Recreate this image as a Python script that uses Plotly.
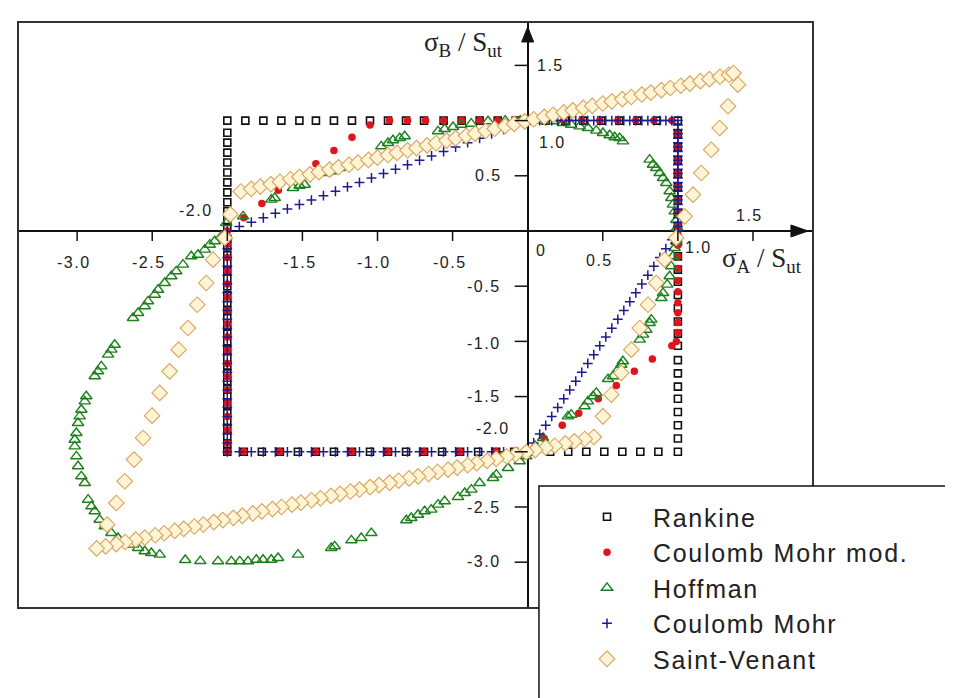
import plotly.graph_objects as go

# ---------------- data ----------------
SERIES_NAMES = ["Rankine", "Coulomb Mohr mod.", "Hoffman", "Coulomb Mohr", "Saint-Venant"]

RANKINE_PTS = [
    # top edge
    (-2.0, 1.0), (-1.88, 1.0), (-1.76, 1.0), (-1.64, 1.0), (-1.52, 1.0), (-1.41, 1.0), (-1.29, 1.0),
    (-1.17, 1.0), (-1.05, 1.0), (-0.93, 1.0), (-0.81, 1.0), (-0.69, 1.0), (-0.56, 1.0), (-0.44, 1.0),
    (-0.32, 1.0), (-0.20, 1.0), (-0.08, 1.0), (0.02, 1.0), (0.12, 1.0), (0.25, 1.0), (0.37, 1.0),
    (0.49, 1.0), (0.61, 1.0), (0.73, 1.0), (0.86, 1.0), (1.0, 1.0),
    # right edge
    (1.0, 0.88), (1.0, 0.76), (1.0, 0.64), (1.0, 0.52), (1.0, 0.40), (1.0, 0.28), (1.0, 0.16), (1.0, 0.04),
    (1.0, -0.10), (1.0, -0.23), (1.0, -0.35), (1.0, -0.46), (1.0, -0.58), (1.0, -0.70), (1.0, -0.82),
    (1.0, -0.93), (1.0, -1.04), (1.0, -1.17), (1.0, -1.29), (1.0, -1.41), (1.0, -1.52), (1.0, -1.64),
    (1.0, -1.76), (1.0, -1.88), (1.0, -2.0),
    # bottom edge
    (0.87, -2.0), (0.75, -2.0), (0.63, -2.0), (0.51, -2.0), (0.39, -2.0), (0.27, -2.0), (0.15, -2.0),
    (0.03, -2.0), (-0.09, -2.0), (-0.21, -2.0), (-0.33, -2.0), (-0.45, -2.0), (-0.57, -2.0), (-0.69, -2.0),
    (-0.81, -2.0), (-0.93, -2.0), (-1.05, -2.0), (-1.17, -2.0), (-1.29, -2.0), (-1.41, -2.0), (-1.53, -2.0),
    (-1.65, -2.0), (-1.77, -2.0), (-1.89, -2.0), (-2.0, -2.0),
    # left edge (lower part)
    (-2.0, -1.93), (-2.0, -1.86), (-2.0, -1.79), (-2.0, -1.72), (-2.0, -1.65), (-2.0, -1.58), (-2.0, -1.50),
    (-2.0, -1.43), (-2.0, -1.36), (-2.0, -1.29), (-2.0, -1.22), (-2.0, -1.15), (-2.0, -1.08), (-2.0, -1.00),
    (-2.0, -0.93), (-2.0, -0.86), (-2.0, -0.79), (-2.0, -0.72), (-2.0, -0.65), (-2.0, -0.58), (-2.0, -0.50),
    (-2.0, -0.43), (-2.0, -0.36), (-2.0, -0.29), (-2.0, -0.22), (-2.0, -0.14), (-2.0, -0.07),
    # left edge (upper part)
    (-2.0, 0.03), (-2.0, 0.10), (-2.0, 0.18), (-2.0, 0.26), (-2.0, 0.35), (-2.0, 0.44), (-2.0, 0.53),
    (-2.0, 0.62), (-2.0, 0.71), (-2.0, 0.80), (-2.0, 0.89),
]

CM_MOD_PTS = [
    (0.12, 1.0), (0.24, 1.0), (0.36, 1.0), (0.48, 1.0), (0.60, 1.0), (0.72, 1.0), (0.84, 1.0), (0.96, 1.0),
    (1.0, 0.88), (1.0, 0.76), (1.0, 0.64), (1.0, 0.52), (1.0, 0.40), (1.0, 0.28), (1.0, 0.16), (1.0, 0.04),
    (1.0, -0.03), (1.0, -0.13), (1.0, -0.23), (1.0, -0.34), (1.0, -0.45), (1.0, -0.55), (1.0, -0.65),
    (1.0, -0.74), (1.0, -0.83), (1.0, -0.92), (0.99, -1.0),
    (0.96, -1.04), (0.83, -1.16), (0.71, -1.27), (0.59, -1.40), (0.47, -1.52), (0.34, -1.65), (0.23, -1.76),
    (0.11, -1.88), (0.0, -2.0),
    (-0.21, -2.0), (-0.45, -2.0), (-0.69, -2.0), (-0.93, -2.0), (-1.17, -2.0), (-1.41, -2.0), (-1.65, -2.0),
    (-1.89, -2.0), (-2.0, -2.0),
    (-2.0, -1.92), (-2.0, -1.80), (-2.0, -1.68), (-2.0, -1.56), (-2.0, -1.44), (-2.0, -1.32), (-2.0, -1.20),
    (-2.0, -1.08), (-2.0, -0.96), (-2.0, -0.84), (-2.0, -0.72), (-2.0, -0.60), (-2.0, -0.48), (-2.0, -0.36),
    (-2.0, -0.24), (-2.0, -0.12), (-2.0, 0.0),
    (-1.89, 0.12), (-1.77, 0.25), (-1.66, 0.37), (-1.53, 0.49), (-1.41, 0.61), (-1.29, 0.73), (-1.17, 0.85),
    (-1.05, 0.96),
    (-0.92, 1.0), (-0.80, 1.0), (-0.68, 1.0), (-0.56, 1.0), (-0.44, 1.0), (-0.32, 1.0), (-0.20, 1.0),
    (-0.08, 1.0),
]

HOFFMAN_PTS = [
    # quadrant I
    (-0.05, 1.0), (0.06, 1.0), (0.168, 0.994), (0.235, 0.978), (0.290, 0.963), (0.346, 0.948), (0.401, 0.933),
    (0.457, 0.909), (0.501, 0.888), (0.546, 0.867), (0.579, 0.849), (0.612, 0.842), (0.634, 0.812),
    (0.812, 0.646), (0.834, 0.600), (0.856, 0.571), (0.879, 0.525), (0.901, 0.480), (0.923, 0.435),
    (0.945, 0.360), (0.956, 0.299), (0.967, 0.239), (0.979, 0.178), (0.990, 0.100), (0.995, 0.030),
    # quadrant IV
    (0.989, -0.093), (0.978, -0.154), (0.967, -0.229), (0.956, -0.320), (0.945, -0.410), (0.929, -0.486),
    (0.901, -0.562), (0.890, -0.607), (0.823, -0.803), (0.812, -0.833), (0.790, -0.894), (0.768, -0.939),
    (0.746, -0.984), (0.634, -1.180), (0.623, -1.211), (0.601, -1.256), (0.568, -1.316), (0.535, -1.341),
    (0.457, -1.467), (0.435, -1.497), (0.401, -1.543), (0.379, -1.588), (0.290, -1.664), (0.268, -1.679),
    (0.102, -1.875), (0.050, -1.950),
    # quadrant III, lower branch
    (-0.009, -2.041), (-0.053, -2.086), (-0.131, -2.147), (-0.209, -2.207), (-0.231, -2.237), (-0.320, -2.283),
    (-0.375, -2.343), (-0.419, -2.373), (-0.464, -2.409), (-0.553, -2.448), (-0.597, -2.479), (-0.642, -2.524),
    (-0.686, -2.538), (-0.730, -2.570), (-0.775, -2.600), (-0.808, -2.620), (-1.041, -2.736), (-1.108, -2.781),
    (-1.174, -2.802), (-1.285, -2.856), (-1.308, -2.871), (-1.529, -2.932), (-1.662, -2.962), (-1.707, -2.978),
    (-1.762, -2.978), (-1.807, -2.978), (-1.862, -2.992), (-1.917, -2.992), (-1.973, -2.992), (-2.062, -2.992),
    (-2.180, -2.990), (-2.280, -2.980),
    # quadrant III, left branch
    (-2.450, -2.932), (-2.506, -2.917), (-2.550, -2.901), (-2.594, -2.871), (-2.628, -2.841), (-2.683, -2.811),
    (-2.728, -2.781), (-2.772, -2.736), (-2.816, -2.675), (-2.850, -2.616), (-2.883, -2.539), (-2.905, -2.494),
    (-2.927, -2.434), (-2.949, -2.283), (-2.972, -2.222), (-2.994, -2.131), (-3.005, -2.041), (-3.016, -1.951),
    (-3.016, -1.891), (-3.005, -1.830), (-2.994, -1.739), (-2.983, -1.679), (-2.972, -1.619), (-2.949, -1.543),
    (-2.939, -1.497), (-2.883, -1.316), (-2.861, -1.271), (-2.839, -1.226), (-2.794, -1.120), (-2.772, -1.075),
    (-2.750, -1.030), (-2.628, -0.788), (-2.594, -0.743), (-2.550, -0.682), (-2.528, -0.637), (-2.483, -0.577),
    (-2.461, -0.532), (-2.417, -0.471), (-2.373, -0.410), (-2.340, -0.365), (-2.295, -0.305), (-2.240, -0.229),
    (-2.195, -0.215), (-2.150, -0.169), (-2.117, -0.124), (-2.084, -0.093), (-2.040, -0.048),
    # quadrant II
    (-2.007, 0.072), (-1.895, 0.133), (-1.707, 0.284), (-1.684, 0.299), (-1.563, 0.389), (-1.518, 0.410),
    (-1.485, 0.419), (-1.341, 0.525), (-1.296, 0.541), (-1.252, 0.571), (-1.196, 0.601), (-0.975, 0.767),
    (-0.930, 0.797), (-0.897, 0.822), (-0.852, 0.842), (-0.819, 0.858), (-0.597, 0.903), (-0.553, 0.924),
    (-0.497, 0.942), (-0.442, 0.963), (-0.376, 0.972), (-0.264, 0.994), (-0.150, 1.0),
]

CM_PTS = [
    # quadrant II line
    (-2.0, 0.0), (-1.92, 0.04), (-1.84, 0.08), (-1.76, 0.12), (-1.68, 0.16), (-1.60, 0.20), (-1.52, 0.24),
    (-1.44, 0.28), (-1.36, 0.32), (-1.28, 0.36), (-1.20, 0.40), (-1.12, 0.44), (-1.04, 0.48), (-0.96, 0.52),
    (-0.88, 0.56), (-0.80, 0.60), (-0.72, 0.64), (-0.64, 0.68), (-0.56, 0.72), (-0.48, 0.76), (-0.40, 0.80),
    (-0.32, 0.84), (-0.24, 0.88), (-0.16, 0.92), (-0.08, 0.96), (0.0, 1.0),
    # quadrant I top
    (0.04, 1.0), (0.08, 1.0), (0.12, 1.0), (0.16, 1.0), (0.20, 1.0), (0.24, 1.0), (0.28, 1.0), (0.32, 1.0),
    (0.36, 1.0), (0.40, 1.0), (0.44, 1.0), (0.48, 1.0), (0.52, 1.0), (0.56, 1.0), (0.60, 1.0), (0.64, 1.0),
    (0.68, 1.0), (0.72, 1.0), (0.76, 1.0), (0.80, 1.0), (0.84, 1.0), (0.88, 1.0), (0.92, 1.0), (0.96, 1.0),
    (1.0, 1.0),
    # quadrant I right
    (1.0, 0.96), (1.0, 0.92), (1.0, 0.88), (1.0, 0.84), (1.0, 0.80), (1.0, 0.76), (1.0, 0.72), (1.0, 0.68),
    (1.0, 0.64), (1.0, 0.60), (1.0, 0.56), (1.0, 0.52), (1.0, 0.48), (1.0, 0.44), (1.0, 0.40), (1.0, 0.36),
    (1.0, 0.32), (1.0, 0.28), (1.0, 0.24), (1.0, 0.20), (1.0, 0.16), (1.0, 0.12), (1.0, 0.08), (1.0, 0.04),
    (1.0, 0.0),
    # quadrant IV line
    (0.96, -0.08), (0.92, -0.16), (0.88, -0.24), (0.84, -0.32), (0.80, -0.40), (0.76, -0.48), (0.72, -0.56),
    (0.68, -0.64), (0.64, -0.72), (0.60, -0.80), (0.56, -0.88), (0.52, -0.96), (0.48, -1.04), (0.44, -1.12),
    (0.40, -1.20), (0.36, -1.28), (0.32, -1.36), (0.28, -1.44), (0.24, -1.52), (0.20, -1.60), (0.16, -1.68),
    (0.12, -1.76), (0.08, -1.84), (0.04, -1.92), (0.0, -2.0),
    # quadrant III bottom
    (-0.08, -2.0), (-0.16, -2.0), (-0.24, -2.0), (-0.32, -2.0), (-0.40, -2.0), (-0.48, -2.0), (-0.56, -2.0),
    (-0.64, -2.0), (-0.72, -2.0), (-0.80, -2.0), (-0.88, -2.0), (-0.96, -2.0), (-1.04, -2.0), (-1.12, -2.0),
    (-1.20, -2.0), (-1.28, -2.0), (-1.36, -2.0), (-1.44, -2.0), (-1.52, -2.0), (-1.60, -2.0), (-1.68, -2.0),
    (-1.76, -2.0), (-1.84, -2.0), (-1.92, -2.0), (-2.0, -2.0),
    # quadrant III left
    (-2.0, -1.92), (-2.0, -1.84), (-2.0, -1.76), (-2.0, -1.68), (-2.0, -1.60), (-2.0, -1.52), (-2.0, -1.44),
    (-2.0, -1.36), (-2.0, -1.28), (-2.0, -1.20), (-2.0, -1.12), (-2.0, -1.04), (-2.0, -0.96), (-2.0, -0.88),
    (-2.0, -0.80), (-2.0, -0.72), (-2.0, -0.64), (-2.0, -0.56), (-2.0, -0.48), (-2.0, -0.40), (-2.0, -0.32),
    (-2.0, -0.24), (-2.0, -0.16), (-2.0, -0.08),
]

SAINT_VENANT_PTS = [
    # upper side
    (-1.91, 0.358), (-1.84, 0.382), (-1.78, 0.402), (-1.71, 0.425), (-1.65, 0.446), (-1.58, 0.469),
    (-1.52, 0.489), (-1.45, 0.513), (-1.39, 0.533), (-1.32, 0.556), (-1.26, 0.577), (-1.19, 0.600),
    (-1.13, 0.620), (-1.06, 0.644), (-1.00, 0.664), (-0.93, 0.688), (-0.87, 0.708), (-0.80, 0.731),
    (-0.74, 0.751), (-0.67, 0.775), (-0.61, 0.795), (-0.54, 0.819), (-0.48, 0.839), (-0.41, 0.862),
    (-0.35, 0.882), (-0.28, 0.906), (-0.22, 0.926), (-0.15, 0.950), (-0.09, 0.970), (-0.02, 0.993),
    (0.04, 1.012), (0.11, 1.034), (0.17, 1.053), (0.24, 1.074), (0.30, 1.093), (0.37, 1.115),
    (0.43, 1.133), (0.50, 1.155), (0.56, 1.174), (0.63, 1.195), (0.69, 1.214), (0.76, 1.236),
    (0.82, 1.254), (0.89, 1.276), (0.95, 1.295), (1.02, 1.316), (1.08, 1.335), (1.15, 1.357),
    (1.21, 1.375), (1.28, 1.397), (1.34, 1.415), (1.37, 1.431),
    # right side
    (1.400, 1.325), (1.334, 1.130), (1.278, 0.933), (1.222, 0.736), (1.156, 0.525), (1.101, 0.329),
    (1.045, 0.133), (0.989, -0.063), (0.912, -0.260), (0.856, -0.471), (0.801, -0.668), (0.746, -0.879),
    (0.690, -1.075), (0.623, -1.286), (0.557, -1.483), (0.501, -1.679),
    # lower side
    (0.44, -1.866), (0.38, -1.884), (0.31, -1.905), (0.25, -1.924), (0.18, -1.945), (0.12, -1.963),
    (0.05, -1.985), (-0.01, -2.003), (-0.08, -2.024), (-0.14, -2.043), (-0.21, -2.064), (-0.27, -2.082),
    (-0.34, -2.104), (-0.40, -2.122), (-0.47, -2.143), (-0.53, -2.162), (-0.60, -2.183), (-0.66, -2.201),
    (-0.73, -2.223), (-0.79, -2.241), (-0.86, -2.262), (-0.92, -2.281), (-0.99, -2.302), (-1.05, -2.320),
    (-1.12, -2.342), (-1.18, -2.360), (-1.25, -2.381), (-1.31, -2.400), (-1.38, -2.421), (-1.44, -2.439),
    (-1.51, -2.461), (-1.57, -2.479), (-1.64, -2.500), (-1.70, -2.519), (-1.77, -2.540), (-1.83, -2.558),
    (-1.90, -2.580), (-1.96, -2.598), (-2.03, -2.619), (-2.09, -2.637), (-2.16, -2.659), (-2.22, -2.677),
    (-2.29, -2.698), (-2.35, -2.717), (-2.42, -2.738), (-2.48, -2.756), (-2.55, -2.778), (-2.61, -2.796),
    (-2.68, -2.817), (-2.74, -2.836), (-2.81, -2.857), (-2.87, -2.875),
    # left side
    (-2.800, -2.660), (-2.739, -2.464), (-2.683, -2.267), (-2.621, -2.071), (-2.561, -1.875), (-2.501, -1.673),
    (-2.450, -1.467), (-2.384, -1.271), (-2.324, -1.075), (-2.262, -0.879), (-2.200, -0.668), (-2.140, -0.471),
    (-2.095, -0.260), (-2.017, -0.063), (-1.980, 0.150),
]

X_TICKS = [-3.0, -2.5, -2.0, -1.5, -1.0, -0.5, 0.0, 0.5, 1.0, 1.5]
X_TICK_LABELS = ["-3.0", "-2.5", "-2.0", "-1.5", "-1.0", "-0.5", "0", "0.5", "1.0", "1.5"]
Y_TICKS = [1.5, 1.0, 0.5, -0.5, -1.0, -1.5, -2.0, -2.5, -3.0]
Y_TICK_LABELS = ["1.5", "1.0", "0.5", "-0.5", "-1.0", "-1.5", "-2.0", "-2.5", "-3.0"]

X_TITLE = "σ<sub>A</sub> / S<sub>ut</sub>"
Y_TITLE = "σ<sub>B</sub> / S<sub>ut</sub>"

# ---------------- styles / layout ----------------
# pixel offsets of each tick label from its tick point (dx right, dy up)
X_LABEL_SHIFT = [(-3, -32), (-3, -32), (-31, 20), (-2, -32), (-4, -32), (-3, -32), (13, -20), (-3, -30), (21, -17), (-3, 15)]
Y_LABEL_SHIFT = [(23, 0), (25, -22), (-39, 0), (-44, 0), (-44, -2), (-44, 0), (-35, 23), (-44, -1), (-44, 1)]

X_RANGE = [-3.387, 1.893]
Y_RANGE = [-3.406, 1.884]

STYLES = [
    dict(symbol="square-open", size=7, color="#111111", line=dict(width=1.6, color="#111111")),
    dict(symbol="circle", size=7.5, color="#e0141c", line=dict(width=0)),
    dict(symbol="triangle-up-open", size=10, color="#1d801d", line=dict(width=1.4, color="#1d801d")),
    dict(symbol="cross-thin-open", size=7, color="#1c1c8e", line=dict(width=1.5, color="#1c1c8e")),
    dict(symbol="diamond", size=12, color="#fff4d6", line=dict(width=1.1, color="#d8a45c")),
]

ALL_PTS = [RANKINE_PTS, CM_MOD_PTS, HOFFMAN_PTS, CM_PTS, SAINT_VENANT_PTS]

LEG_FONT = dict(family="Liberation Sans, Arial, sans-serif", size=25, color="#222222")
TICK_FONT = dict(family="Liberation Sans, Arial, sans-serif", size=16, color="#222222")
TITLE_FONT = dict(family="Liberation Serif, Times New Roman, serif", size=27, color="#222222")

fig = go.Figure()
for name, pts, st in zip(SERIES_NAMES, ALL_PTS, STYLES):
    fig.add_trace(go.Scatter(
        x=[p[0] for p in pts], y=[p[1] for p in pts], mode="markers",
        name='<span style="letter-spacing:1.7px">' + name + '</span>',
        marker=st, hoverinfo="skip",
    ))

shapes = []
for t in X_TICKS:
    if t == 0.0:
        continue
    shapes.append(dict(type="line", xref="x", yref="y", x0=t, x1=t, ysizemode="pixel", yanchor=0,
                       y0=0, y1=-10, line=dict(color="#111111", width=1.5)))
for t in Y_TICKS:
    shapes.append(dict(type="line", xref="x", yref="y", y0=t, y1=t, xsizemode="pixel", xanchor=0,
                       x0=0, x1=-13, line=dict(color="#111111", width=1.5)))
# arrow heads on the axes
shapes.append(dict(type="path", xref="x", yref="y", xsizemode="pixel", ysizemode="pixel",
                   xanchor=X_RANGE[1] - 0.027, yanchor=0, path="M0,0 L-17,6 L-17,-6 Z",
                   fillcolor="#111111", line=dict(color="#111111", width=1)))
shapes.append(dict(type="path", xref="x", yref="y", xsizemode="pixel", ysizemode="pixel",
                   xanchor=0, yanchor=Y_RANGE[1] - 0.036, path="M0,0 L-6,-15 L6,-15 Z",
                   fillcolor="#111111", line=dict(color="#111111", width=1)))
# legend frame
shapes.append(dict(type="rect", xref="paper", yref="paper", x0=0.6557, x1=1.3, y0=-0.4, y1=0.2072,
                   fillcolor="white", line=dict(color="#111111", width=1.5), layer="above"))

annotations = []
for t, lab, (dx, dy) in zip(X_TICKS, X_TICK_LABELS, X_LABEL_SHIFT):
    annotations.append(dict(x=t, y=0, xref="x", yref="y", showarrow=False, xshift=dx, yshift=dy,
                            text='<span style="letter-spacing:1.5px">' + lab + '</span>',
                            font=TICK_FONT, xanchor="center", yanchor="middle"))
for t, lab, (dx, dy) in zip(Y_TICKS, Y_TICK_LABELS, Y_LABEL_SHIFT):
    annotations.append(dict(x=0, y=t, xref="x", yref="y", showarrow=False, xshift=dx, yshift=dy,
                            text='<span style="letter-spacing:1.5px">' + lab + '</span>',
                            font=TICK_FONT, xanchor="center", yanchor="middle"))
annotations.append(dict(x=-0.15, y=1.69, xref="x", yref="y", showarrow=False, text=Y_TITLE,
                        font=TITLE_FONT, xanchor="right", yanchor="middle"))
annotations.append(dict(x=1.84, y=-0.265, xref="x", yref="y", showarrow=False, text=X_TITLE,
                        font=TITLE_FONT, xanchor="right", yanchor="middle"))

axis_common = dict(showgrid=False, zeroline=True, zerolinecolor="#111111", zerolinewidth=1.5,
                   showline=True, mirror=True, linecolor="#333333", linewidth=2,
                   showticklabels=False, ticks="", fixedrange=True)

fig.update_layout(
    width=953, height=698,
    margin=dict(l=11, r=149, t=15, b=99, pad=0),
    paper_bgcolor="white", plot_bgcolor="white",
    xaxis=dict(range=X_RANGE, **axis_common),
    yaxis=dict(range=Y_RANGE, **axis_common),
    shapes=shapes, annotations=annotations,
    showlegend=True,
    legend=dict(x=0.6835, y=0.1934, xanchor="left", yanchor="top", bgcolor="rgba(0,0,0,0)",
                borderwidth=0, font=LEG_FONT, itemwidth=82, traceorder="normal"),
)

fig.write_html("out.html", config={"displayModeBar": False})
